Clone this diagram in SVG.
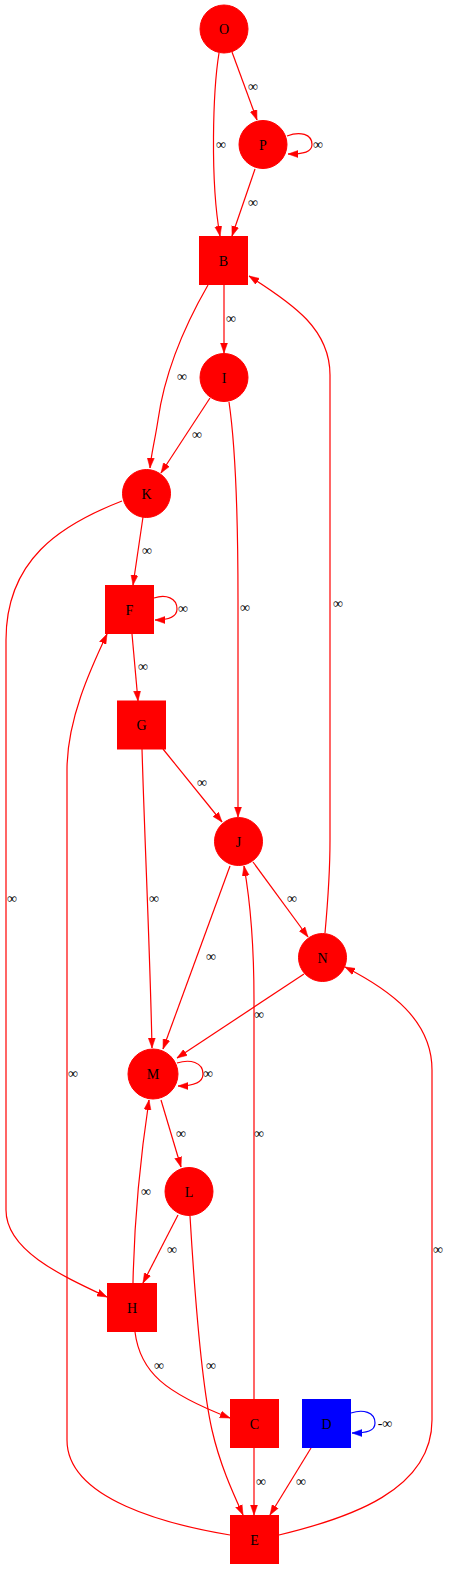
<svg xmlns="http://www.w3.org/2000/svg" width="451" height="1569" viewBox="0 0 451 1569">
<style>
.n{fill:#ff0000;stroke:#ff0000}
.nb{fill:#0000ff;stroke:#0000ff}
.t{font-family:"Liberation Serif","Times New Roman",serif;font-size:14px;text-anchor:middle;fill:#000}
.e{fill:none;stroke:#ff0000;stroke-width:1.2;marker-end:url(#ar)}
.eb{fill:none;stroke:#0000ff;stroke-width:1.2;marker-end:url(#ab)}
</style>
<defs>
<marker id="ar" markerUnits="userSpaceOnUse" markerWidth="10" markerHeight="8" refX="10" refY="3.5" orient="auto" viewBox="0 0 10 7"><path d="M0,0 L10,3.5 L0,7 z" fill="#ff0000" stroke="#ff0000" stroke-width="0.5"/></marker>
<marker id="ab" markerUnits="userSpaceOnUse" markerWidth="10" markerHeight="8" refX="10" refY="3.5" orient="auto" viewBox="0 0 10 7"><path d="M0,0 L10,3.5 L0,7 z" fill="#0000ff" stroke="#0000ff" stroke-width="0.5"/></marker>
</defs>
<rect width="451" height="1569" fill="#fff"/>
<g id="edges">
<path class="e" d="M219,53 C213,90 210,180 220,236"/>
<path class="e" d="M232,52 L257,120"/>
<path class="e" d="M287,136 C300,131 312,134 312,144.5 C312,152 304,154 288,154"/>
<path class="e" d="M255,169 L232,236"/>
<path class="e" d="M224,285 L224,353"/>
<path class="e" d="M208,285 C185,325 165,370 158,420 C155,440 151,455 150,468"/>
<path class="e" d="M210,398 L161,473"/>
<path class="e" d="M229,402 C236,450 238,520 238,600 L238,817"/>
<path class="e" d="M325,933 C328,900 330,870 330,840 L330,375 C330,330 295,305 249,276"/>
<path class="e" d="M143,517 L133,585"/>
<path class="e" d="M122,501 C60,525 6,560 6,640 L6,1210 C6,1250 60,1275 107,1297"/>
<path class="e" d="M154,598 C166,594 177,598 177,609 C177,617 169,620 155,620"/>
<path class="e" d="M132,634 L138,701"/>
<path class="e" d="M230,1535 C170,1525 67,1500 67,1440 L67,770 C67,720 90,670 107,634"/>
<path class="e" d="M163,749 L222,822"/>
<path class="e" d="M142,749 C145,850 150,950 152,1048"/>
<path class="e" d="M253,862 L308,937"/>
<path class="e" d="M230,866 L163,1049"/>
<path class="e" d="M254,1399 L254,1000 C254,940 250,900 244,866"/>
<path class="e" d="M304,974 L177,1058"/>
<path class="e" d="M279,1535 C350,1518 432,1490 432,1420 L432,1070 C432,1020 390,990 345,967"/>
<path class="e" d="M177,1063 C190,1059 203,1062 203,1074 C203,1083 194,1086 178,1086"/>
<path class="e" d="M161,1100 L181,1167"/>
<path class="e" d="M133,1283 C134,1230 140,1160 149,1100"/>
<path class="e" d="M178,1215 L143,1283"/>
<path class="e" d="M190,1216 C195,1300 203,1390 212,1430 C220,1465 233,1493 243,1515"/>
<path class="e" d="M135,1332 C140,1372 165,1393 230,1418"/>
<path class="e" d="M254,1448 L254,1515"/>
<path class="e" d="M311,1448 L270,1515"/>
<path class="eb" d="M351,1413 C363,1409 375,1412 375,1423 C375,1431 367,1433 352,1433"/>
</g>
<g id="edge-labels">
<text class="t" x="221" y="149">∞</text>
<text class="t" x="253" y="91">∞</text>
<text class="t" x="318" y="149">∞</text>
<text class="t" x="253" y="207">∞</text>
<text class="t" x="231" y="323">∞</text>
<text class="t" x="182" y="381">∞</text>
<text class="t" x="197" y="439">∞</text>
<text class="t" x="245" y="612">∞</text>
<text class="t" x="338" y="608">∞</text>
<text class="t" x="147" y="555">∞</text>
<text class="t" x="12" y="903">∞</text>
<text class="t" x="183" y="613">∞</text>
<text class="t" x="143" y="671">∞</text>
<text class="t" x="73" y="1078">∞</text>
<text class="t" x="202" y="787">∞</text>
<text class="t" x="154" y="903">∞</text>
<text class="t" x="292" y="903">∞</text>
<text class="t" x="211" y="961">∞</text>
<text class="t" x="259" y="1019">∞</text>
<text class="t" x="259" y="1138">∞</text>
<text class="t" x="438" y="1254">∞</text>
<text class="t" x="208" y="1078">∞</text>
<text class="t" x="181" y="1138">∞</text>
<text class="t" x="146" y="1196">∞</text>
<text class="t" x="172" y="1254">∞</text>
<text class="t" x="211" y="1370">∞</text>
<text class="t" x="159" y="1370">∞</text>
<text class="t" x="261" y="1486">∞</text>
<text class="t" x="301" y="1486">∞</text>
<text class="t" x="385" y="1428">-∞</text>
</g>
<g id="node-O"><circle class="n" cx="224" cy="29" r="24"/><text class="t" x="224" y="34">O</text></g>
<g id="node-P"><circle class="n" cx="263" cy="144.5" r="24"/><text class="t" x="263" y="149.5">P</text></g>
<g id="node-B"><rect class="n" x="199.5" y="236.5" width="48" height="48"/><text class="t" x="223.5" y="265.5">B</text></g>
<g id="node-I"><circle class="n" cx="224" cy="377.5" r="24"/><text class="t" x="224" y="382.5">I</text></g>
<g id="node-K"><circle class="n" cx="146.5" cy="493.5" r="24"/><text class="t" x="146.5" y="498.5">K</text></g>
<g id="node-F"><rect class="n" x="105.5" y="585.5" width="48" height="48"/><text class="t" x="129.5" y="614.5">F</text></g>
<g id="node-G"><rect class="n" x="117.5" y="701" width="48" height="48"/><text class="t" x="141.5" y="730">G</text></g>
<g id="node-J"><circle class="n" cx="238.5" cy="841.5" r="24"/><text class="t" x="238.5" y="846.5">J</text></g>
<g id="node-N"><circle class="n" cx="322.5" cy="957.5" r="24"/><text class="t" x="322.5" y="962.5">N</text></g>
<g id="node-M"><circle class="n" cx="153" cy="1074" r="25"/><text class="t" x="153" y="1079">M</text></g>
<g id="node-L"><circle class="n" cx="189" cy="1191.5" r="24"/><text class="t" x="189" y="1196.5">L</text></g>
<g id="node-H"><rect class="n" x="107.5" y="1283.5" width="49" height="48"/><text class="t" x="132" y="1312.5">H</text></g>
<g id="node-C"><rect class="n" x="230.5" y="1399.5" width="48" height="48"/><text class="t" x="254.5" y="1428.5">C</text></g>
<g id="node-D"><rect class="nb" x="302.5" y="1399.5" width="48" height="48"/><text class="t" x="326.5" y="1428.5">D</text></g>
<g id="node-E"><rect class="n" x="230.5" y="1515.5" width="48" height="48"/><text class="t" x="254.5" y="1544.5">E</text></g>
</svg>
